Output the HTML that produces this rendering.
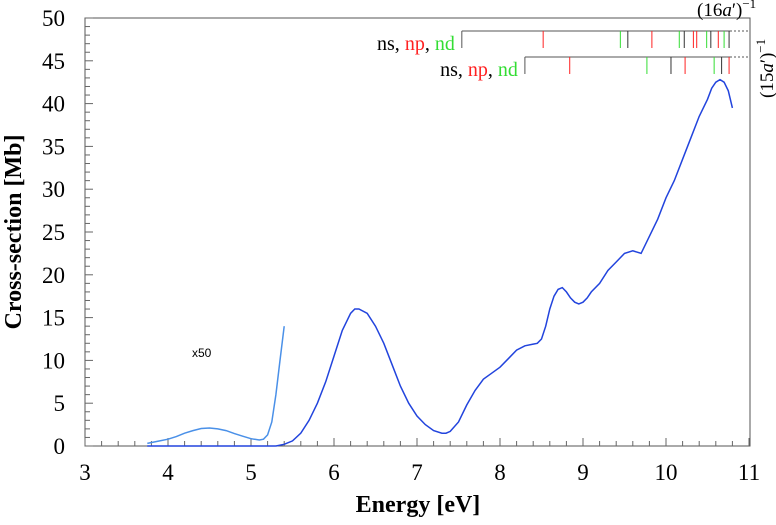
<!DOCTYPE html>
<html><head><meta charset="utf-8"><style>
body{margin:0;background:#fff}
svg{font-family:"Liberation Serif",serif}
</style></head><body>
<svg id="c" width="776" height="520" xmlns="http://www.w3.org/2000/svg"></svg>
<script>
const xTicks=[3,4,5,6,7,8,9,10,11];
const yTicks=[0,5,10,15,20,25,30,35,40,45,50];
const mainE=[5.3,5.4,5.5,5.6,5.7,5.8,5.9,6.0,6.1,6.2,6.25,6.3,6.4,6.5,6.6,6.7,6.8,6.9,7.0,7.1,7.2,7.3,7.35,7.4,7.5,7.6,7.7,7.8,7.9,8.0,8.1,8.2,8.3,8.4,8.45,8.5,8.55,8.6,8.65,8.7,8.75,8.8,8.85,8.9,8.95,9.0,9.05,9.1,9.2,9.3,9.4,9.5,9.6,9.7,9.8,9.9,10.0,10.1,10.2,10.3,10.4,10.5,10.55,10.6,10.65,10.7,10.75,10.8];
const mainV=[0,0.2,0.6,1.5,3,5,7.5,10.5,13.5,15.5,16,16,15.5,14,12,9.5,7,5,3.5,2.5,1.8,1.5,1.5,1.7,2.8,4.8,6.5,7.8,8.5,9.2,10.2,11.2,11.7,11.9,12,12.5,14,16,17.5,18.3,18.5,18,17.3,16.8,16.6,16.8,17.3,18,19,20.5,21.5,22.5,22.8,22.5,24.5,26.5,29,31,33.5,36,38.5,40.5,41.8,42.5,42.8,42.5,41.5,39.5];
const zoomE=[3.75,3.9,4.0,4.1,4.2,4.3,4.4,4.5,4.6,4.7,4.8,4.9,5.0,5.1,5.15,5.2,5.25,5.3,5.35,5.4];
const zoomV=[0.3,0.6,0.8,1.1,1.5,1.8,2.05,2.1,2.0,1.8,1.45,1.15,0.85,0.7,0.8,1.3,2.8,6,10,14];
const bar16Start=7.54, bar15Start=8.30;
const lines16E=[8.52,9.45,9.54,9.83,10.16,10.22,10.33,10.37,10.49,10.54,10.63,10.70,10.76];
const lines16T=['p','d','s','p','d','s','p','p','d','s','p','d','s'];
const lines15E=[8.84,9.77,10.06,10.23,10.58,10.67,10.76];
const lines15T=['p','d','s','p','d','s','p'];
const NS="http://www.w3.org/2000/svg";
const svg=document.getElementById('c');
const X=e=>85+(e-3)*83, Y=v=>446-v*8.56;
const col={s:'#333',p:'#f22',d:'#3d3'};
function el(t,a,txt){const n=document.createElementNS(NS,t);for(const k in a)n.setAttribute(k,a[k]);if(txt!==undefined)n.textContent=txt;svg.appendChild(n);return n;}
let n;
n=el('rect',{x:85,y:18,width:665,height:428,fill:'none',stroke:'#555','stroke-width':1});

for(let e=3;e<=11.001;e+=0.2){n=el('line',{x1:X(e),x2:X(e),y1:446,y2:Math.abs(e-Math.round(e))<0.01?438:441,stroke:'#666'});
}
for(let v=0;v<=50;v++){n=el('line',{x1:85,x2:v%5==0?93:90,y1:Y(v),y2:Y(v),stroke:'#666'});
}
xTicks.forEach(t=>{n=el('text',{x:X(t),y:480,'font-size':23,'text-anchor':'middle'},t);
});
yTicks.forEach(t=>{n=el('text',{x:65,y:Y(t)+8,'font-size':23,'text-anchor':'end'},t);
});
n=el('text',{x:418,y:512,'font-size':24,'font-weight':'bold','text-anchor':'middle'},'Energy [eV]');

n=el('text',{x:0,y:0,'font-size':24,'font-weight':'bold','text-anchor':'middle',transform:'translate(21,232) rotate(-90)'},'Cross-section [Mb]');

function path(E,V){return E.map((e,i)=>(i?'L':'M')+X(e).toFixed(1)+','+Y(V[i]).toFixed(1)).join(' ');}
n=el('line',{x1:X(3.75),x2:X(5.3),y1:Y(0),y2:Y(0),stroke:'#2244dd','stroke-width':1.5});

n=el('path',{d:path(zoomE,zoomV),fill:'none',stroke:'#4a90e8','stroke-width':1.5});

n=el('path',{d:path(mainE,mainV),fill:'none',stroke:'#2244dd','stroke-width':1.5});

n=el('text',{x:192,y:357,'font-size':12,'font-family':'Liberation Sans,sans-serif'},'x50');

function series(start,y,E,T,name){
 n=el('line',{x1:X(start),x2:730,y1:y,y2:y,stroke:'#555'});
 
 n=el('line',{x1:730,x2:750,y1:y,y2:y,stroke:'#555','stroke-dasharray':'2,2'});
 
 n=el('line',{x1:X(start),x2:X(start),y1:y,y2:y+17,stroke:'#555'});
 
 E.forEach((e,i)=>{n=el('line',{x1:X(e),x2:X(e),y1:y,y2:y+17,stroke:col[T[i]]});
 });
 n=el('text',{x:X(start)-7,y:y+19,'font-size':20,'text-anchor':'end'});
 
 n.innerHTML='<tspan fill="#000">ns, </tspan><tspan fill="#f22">np</tspan><tspan fill="#000">, </tspan><tspan fill="#3d3">nd</tspan>';
}
series(bar16Start,31,lines16E,lines16T,'series-16a');
series(bar15Start,57,lines15E,lines15T,'series-15a');
n=el('text',{x:697,y:16,'font-size':19});

n.innerHTML='(16<tspan font-style="italic">a</tspan>′)<tspan dy="-8" font-size="13">−1</tspan>';
n=el('text',{x:0,y:0,'font-size':19,transform:'translate(773,98) rotate(-90)'});

n.innerHTML='(15<tspan font-style="italic">a</tspan>′)<tspan dy="-8" font-size="13">−1</tspan>';
</script>
</body></html>
